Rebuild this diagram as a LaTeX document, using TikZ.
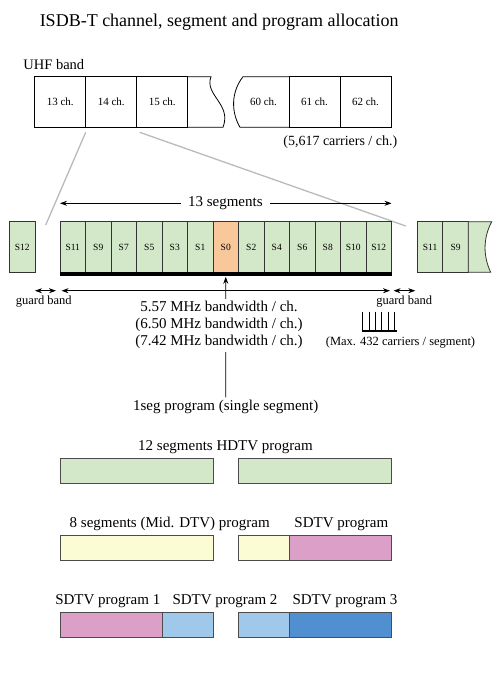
\documentclass[tikz,border=0pt]{standalone}
\usepackage{fontspec}
\setmainfont{Liberation Serif}
\usetikzlibrary{arrows.meta,positioning,calc}
\definecolor{seggreen}{RGB}{211,232,200}
\definecolor{segorange}{RGB}{249,200,154}
\definecolor{midyellow}{RGB}{251,251,212}
\definecolor{sdpink}{RGB}{220,160,200}
\definecolor{sdblue}{RGB}{160,200,235}
\definecolor{sddark}{RGB}{80,144,208}

\begin{document}
\begin{tikzpicture}[
    x=1pt, y=-1pt,
    line width=0.8pt,
    >={Stealth[length=7pt,width=5pt]},
    chbox/.style={draw, rectangle, minimum width=51pt, minimum height=50.6pt, inner sep=0pt, outer sep=0pt, font=\fontsize{11}{13}\selectfont},
    seg/.style={draw=black!80, fill=seggreen, minimum width=25.5pt, minimum height=50.6pt, inner sep=0pt, outer sep=0pt, font=\fontsize{9.5}{11}\selectfont},
    bar/.style={draw=black!70, minimum height=25pt, inner sep=0pt, outer sep=0pt},
    lbl/.style={font=\fontsize{15}{16.7}\selectfont, inner sep=2pt},
    small/.style={font=\fontsize{12.5}{14}\selectfont, inner sep=1pt},
    zoomline/.style={draw=black!27, line width=1.3pt}
]
\useasboundingbox (0,0) rectangle (500,683);

% Title
\node[font=\fontsize{18}{20}\selectfont] (title) at (219.2,21.7) {ISDB-T channel, segment and program allocation};

% UHF channels
\node[font=\fontsize{14.5}{16}\selectfont, anchor=west, inner sep=0pt] (uhf) at (23,65) {UHF band};
\node[chbox] (ch13) at (60.2,102) {13 ch.};
\node[chbox, right=0pt of ch13] (ch14) {14 ch.};
\node[chbox, right=0pt of ch14] (ch15) {15 ch.};
\node[chbox, anchor=east] (ch62) at (391,102) {62 ch.};
\node[chbox, left=0pt of ch62] (ch61) {61 ch.};
\node[chbox, draw=none, left=0pt of ch61] (ch60) {60 ch.};
\draw (ch15.north east) -- (211,76.7) .. controls (204,95) and (232,104) .. (223,127.3) -- (ch15.south east);
\draw (ch60.north east) -- (243,76.7) .. controls (231,92) and (231,112) .. (240,127.3) -- (ch60.south east);
\node[lbl, font=\fontsize{14}{16}\selectfont] (carr) at (340.3,141.7) {(5,617 carriers / ch.)};

% Zoom lines
\coordinate (zl) at (45.7,225);
\coordinate (zr) at (405.7,226);
\draw[zoomline] ([yshift=-5pt]ch14.south west) -- (zl);
\draw[zoomline] ([xshift=3pt,yshift=-5pt]ch14.south east) -- (zr);

% Segments
\node[seg] (lS12) at (22.2,247) {S12};
\node[seg, anchor=west] (s11) at (60,247) {S11};
\node[seg, right=0pt of s11] (s9) {S9};
\node[seg, right=0pt of s9] (s7) {S7};
\node[seg, right=0pt of s7] (s5) {S5};
\node[seg, right=0pt of s5] (s3) {S3};
\node[seg, right=0pt of s3] (s1) {S1};
\node[seg, fill=segorange, right=0pt of s1] (s0) {S0};
\node[seg, right=0pt of s0] (s2) {S2};
\node[seg, right=0pt of s2] (s4) {S4};
\node[seg, right=0pt of s4] (s6) {S6};
\node[seg, right=0pt of s6] (s8) {S8};
\node[seg, right=0pt of s8] (s10) {S10};
\node[seg, right=0pt of s10] (s12) {S12};
\node[seg, anchor=west] (rS11) at (417.3,247) {S11};
\node[seg, right=0pt of rS11] (rS9) {S9};
\path[draw=black!80, fill=seggreen] (rS9.north east) -- (491.7,221.7) .. controls (483,238) and (483,256) .. (490.7,272.3) -- (rS9.south east) -- cycle;
\fill (s11.south west) rectangle ([yshift=-3.5pt]s12.south east);

% 13 segments
\node[lbl, inner xsep=7pt] (nseg) at (225.3,203.3) {13 segments};
\draw[->] (nseg) -- (s11.west |- nseg);
\draw[->] (nseg) -- (s12.east |- nseg);

% Bandwidth and guard bands
\coordinate (bw) at (0,290.7);
\draw[<->, shorten <=1.5pt, shorten >=1.5pt] (s11.west |- bw) -- (s12.east |- bw);
\draw[<->, shorten >=4pt] (lS12.east |- bw) -- (s11.west |- bw);
\draw[<->, shorten <=2pt, shorten >=2pt] (s12.east |- bw) -- (rS11.west |- bw);
\node[small] (gbl) at (43.8,301.7) {guard band};
\node[small] (gbr) at (404.2,301.7) {guard band};

\node[lbl] (oneseg) at (225.7,406.7) {1seg program (single segment)};
\draw[->] (oneseg) -- ([yshift=-4.5pt]s0.south);
\node[lbl, fill=white, align=center, inner sep=3pt] (bwtext) at (219,325) {5.57 MHz bandwidth / ch.\\(6.50 MHz bandwidth / ch.)\\(7.42 MHz bandwidth / ch.)};

% Carriers
\draw (362.7,311.7) -- (362.7,331) (369,311.7) -- (369,331) (375.3,311.7) -- (375.3,331)
      (381.6,311.7) -- (381.6,331) (387.9,311.7) -- (387.9,331) (394.2,311.7) -- (394.2,331);
\draw[line width=2.5pt] (361.7,331) -- (396.7,331);
\node[small] (maxc) at (400.5,342.7) {(Max. 432 carriers / segment)};

% Programs
\node[lbl] (hdtv) at (225.5,447.3) {12 segments HDTV program};
\node[bar, fill=seggreen, minimum width=153pt, anchor=north west] (hd1) at (60,458.3) {};
\node[bar, fill=seggreen, minimum width=153pt, right=25.5pt of hd1] (hd2) {};

\node[lbl] (mid) at (169.7,524.3) {8 segments (Mid. DTV) program};
\node[lbl] (sd) at (341.3,524.3) {SDTV program};
\node[bar, fill=midyellow, minimum width=153pt, anchor=north west] (md1) at (60,535.3) {};
\node[bar, fill=midyellow, minimum width=51pt, right=25.5pt of md1] (md2) {};
\node[bar, fill=sdpink, minimum width=102pt, right=0pt of md2] (sd1) {};

\node[lbl] (p1lbl) at (107.8,601) {SDTV program 1};
\node[lbl] (p2lbl) at (225,601) {SDTV program 2};
\node[lbl] (p3lbl) at (345,601) {SDTV program 3};
\node[bar, fill=sdpink, minimum width=102pt, anchor=north west] (p1) at (60,612) {};
\node[bar, fill=sdblue, minimum width=51pt, right=0pt of p1] (p2a) {};
\node[bar, fill=sdblue, minimum width=51pt, right=25.5pt of p2a] (p2b) {};
\node[bar, fill=sddark, minimum width=102pt, right=0pt of p2b] (p3) {};

\end{tikzpicture}
\end{document}
